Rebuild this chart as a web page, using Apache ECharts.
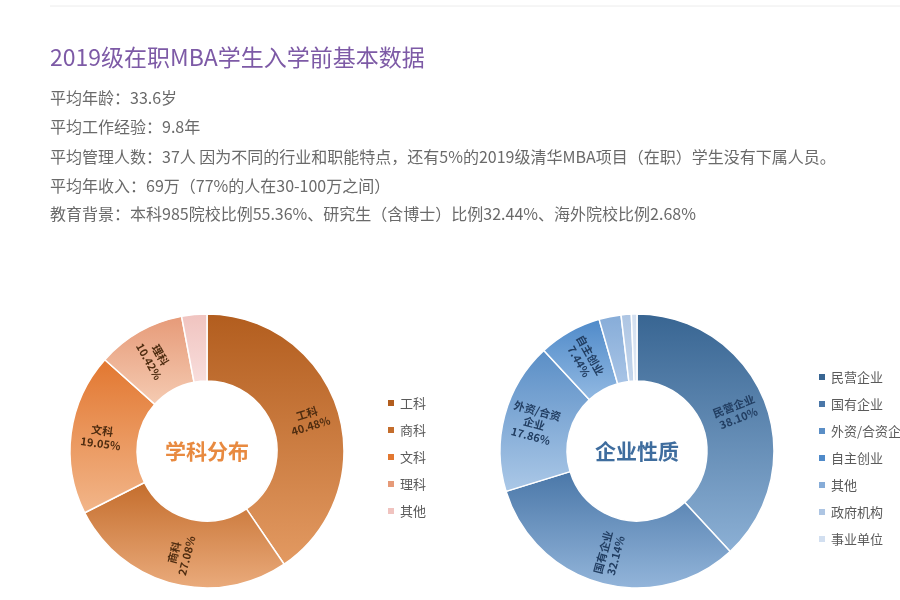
<!DOCTYPE html>
<html>
<head>
<meta charset="utf-8">
<script src="https://cdn.jsdelivr.net/npm/echarts@6/dist/echarts.min.js"></script>
<style>html,body{margin:0;padding:0;background:#fff;}#main{width:900px;height:600px;}</style>
</head>
<body>
<div id="main"></div>
<script>
// ---- data ----
const pageTitle = '2019级在职MBA学生入学前基本数据';
const infoLines = [
  '平均年龄：33.6岁',
  '平均工作经验：9.8年',
  '平均管理人数：37人 因为不同的行业和职能特点，还有5%的2019级清华MBA项目（在职）学生没有下属人员。',
  '平均年收入：69万（77%的人在30-100万之间）',
  '教育背景：本科985院校比例55.36%、研究生（含博士）比例32.44%、海外院校比例2.68%'
];
const subjectTitle = '学科分布';
const subjectNames = ['工科', '商科', '文科', '理科', '其他'];
const subjectValues = [40.48, 27.08, 19.05, 10.42, 2.97];
const subjectLabels = ['工科', '商科', '文科', '理科', ''];

const companyTitle = '企业性质';
const companyNames = ['民营企业', '国有企业', '外资/合资企业', '自主创业', '其他', '政府机构', '事业单位'];
const companyValues = [38.10, 32.14, 17.86, 7.44, 2.60, 1.20, 0.66];
const companyLabels = ['民营企业', '国有企业', '外资/合资\n企业', '自主创业', '', '', ''];

// ---- styles ----
const FONT = 'Noto Sans CJK SC';
const subjectGrad = [
  ['#b25d1e', '#e39a62'],
  ['#c46d2c', '#eaab7c'],
  ['#e27730', '#f2b68a'],
  ['#e69a78', '#f5cbb2'],
  ['#f0c3bf', '#f8dedc']
];
const companyGrad = [
  ['#386592', '#8cb0d5'],
  ['#4a77a8', '#93b5da'],
  ['#5a8ec6', '#abc8e7'],
  ['#4f8ac9', '#92b9e2'],
  ['#86acd8', '#a8c4e6'],
  ['#adc5e3', '#c4d6ec'],
  ['#d2dff0', '#e2eaf5']
];
function grad(c) {
  return new echarts.graphic.LinearGradient(0, 0, 0, 1, [
    { offset: 0, color: c[0] }, { offset: 1, color: c[1] }
  ]);
}
function buildData(names, values, grads) {
  return names.map((n, i) => ({ name: n, value: values[i], itemStyle: { color: grad(grads[i]) } }));
}
function legendData(names, grads) {
  return names.map((n, i) => ({ name: n, itemStyle: { color: grads[i][0] } }));
}

const chart = echarts.init(document.getElementById('main'), null, { renderer: 'canvas' });

const graphics = [
  { type: 'line', shape: { x1: 50, y1: 6, x2: 900, y2: 6 }, style: { stroke: '#ececec', lineWidth: 1 } },
  { type: 'text', x: 50, y: 57, style: { text: pageTitle, font: '23px "' + FONT + '"', fill: '#7d5aa6', verticalAlign: 'middle', align: 'left' } }
];
const lineYs = [98, 127, 157, 186, 214];
infoLines.forEach((t, i) => {
  graphics.push({ type: 'text', x: 50, y: lineYs[i], style: { text: t, font: '16px "' + FONT + '"', fill: '#6a6a6a', verticalAlign: 'middle', align: 'left' } });
});
graphics.push({ type: 'text', x: 207, y: 451, style: { text: subjectTitle, font: 'bold 21px "' + FONT + '"', fill: '#e88a40', align: 'center', verticalAlign: 'middle' } });
graphics.push({ type: 'text', x: 637, y: 451, style: { text: companyTitle, font: 'bold 21px "' + FONT + '"', fill: '#3f6d9e', align: 'center', verticalAlign: 'middle' } });

function pieSeries(name, center, data, labels, labelColor) {
  return {
    name: name,
    type: 'pie',
    center: center,
    radius: [70, 137],
    startAngle: 90,
    clockwise: true,
    avoidLabelOverlap: false,
    itemStyle: { borderColor: '#ffffff', borderWidth: 1.5 },
    label: {
      show: true,
      position: 'inside',
      rotate: 'radial',
      color: labelColor,
      fontFamily: FONT,
      fontSize: 11,
      fontWeight: 'bold',
      lineHeight: 13,
      formatter: p => labels[p.dataIndex] ? labels[p.dataIndex] + '\n' + p.value.toFixed(2) + '%' : ''
    },
    labelLine: { show: false },
    emphasis: { disabled: true },
    animation: false,
    data: data
  };
}

chart.setOption({
  backgroundColor: '#ffffff',
  animation: false,
  graphic: graphics,
  legend: [
    {
      orient: 'vertical', left: 381, top: 391,
      itemWidth: 8, itemHeight: 8, itemGap: 13, icon: 'rect',
      textStyle: { fontFamily: FONT, fontSize: 13, color: '#5a5a5a', lineHeight: 14 },
      data: legendData(subjectNames, subjectGrad), selectedMode: false
    },
    {
      orient: 'vertical', left: 812, top: 365,
      itemWidth: 8, itemHeight: 8, itemGap: 13, icon: 'rect',
      textStyle: { fontFamily: FONT, fontSize: 13, color: '#5a5a5a', lineHeight: 14 },
      data: legendData(companyNames, companyGrad), selectedMode: false
    }
  ],
  series: [
    pieSeries('学科分布', [207, 451], buildData(subjectNames, subjectValues, subjectGrad), subjectLabels, '#4e2c10'),
    pieSeries('企业性质', [637, 451], buildData(companyNames, companyValues, companyGrad), companyLabels, '#223e62')
  ]
});
</script>
</body>
</html>
